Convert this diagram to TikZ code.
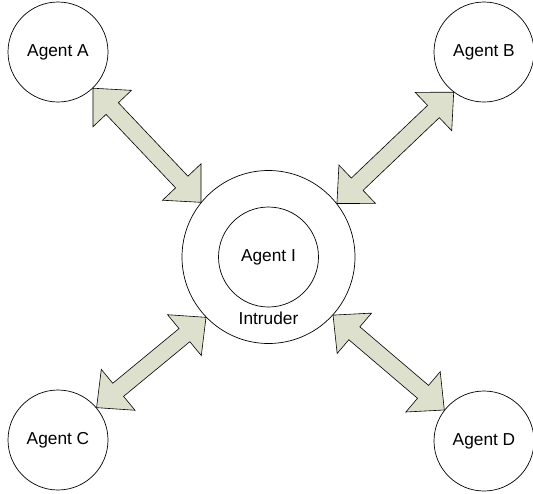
\documentclass[tikz,border=0pt]{standalone}
\usepackage{fontspec}
\setmainfont{Liberation Sans}
\usetikzlibrary{calc}
\definecolor{arrfill}{RGB}{221,224,204}
\tikzset{
  agent/.style={circle,draw,line width=0.7pt,minimum size=100pt,inner sep=0pt,font=\fontsize{17.3}{20}\selectfont},
  intruder/.style={circle,draw,line width=0.7pt,minimum size=173pt,inner sep=0pt},
  txt/.style={inner sep=0pt,font=\fontsize{17.3}{20}\selectfont},
  fatarrow/.style={draw,fill=arrfill,line width=0.6pt,line join=miter}
}
\newcommand\dblarrow[2]{%
  \path (#1) coordinate (s) (#2) coordinate (e);
  \draw[fatarrow] (s)
    -- ($(s)!28pt!(e)!26.5pt!90:(e)$)
    -- ($(s)!28pt!(e)!8.5pt!90:(e)$)
    -- ($(e)!28pt!(s)!8.5pt!-90:(s)$)
    -- ($(e)!28pt!(s)!26.5pt!-90:(s)$)
    -- (e)
    -- ($(e)!28pt!(s)!26.5pt!90:(s)$)
    -- ($(e)!28pt!(s)!8.5pt!90:(s)$)
    -- ($(s)!28pt!(e)!8.5pt!-90:(e)$)
    -- ($(s)!28pt!(e)!26.5pt!-90:(e)$)
    -- cycle;}
\begin{document}
\begin{tikzpicture}[x=1pt,y=-1pt]
\useasboundingbox (0,0) rectangle (533,493);
\node[agent] (A) at (58,52) {Agent A};
\node[agent] (B) at (484,52) {Agent B};
\node[agent] (C) at (58,440) {Agent C};
\node[agent] (D) at (484,441) {Agent D};
\node[intruder] (I) at (268.5,257) {};
\node[agent] (AI) at (268.5,257) {Agent I};
\node[txt] (IL) at (268.5,318) {Intruder};
\dblarrow{A.314}{I.141}
\dblarrow{B.233}{I.38}
\dblarrow{C.40}{I.224}
\dblarrow{D.142}{I.318}
\end{tikzpicture}
\end{document}
